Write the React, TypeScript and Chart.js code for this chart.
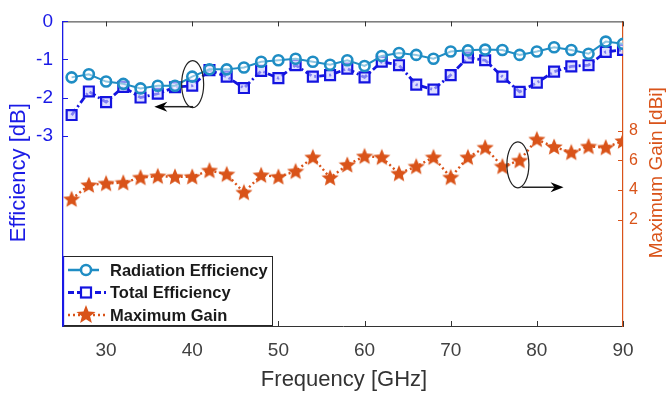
import React, { useEffect, useRef } from "react";
import { Chart, registerables } from "chart.js";

Chart.register(...registerables);

// ---------- data ----------
const freqs = [26, 28, 30, 32, 34, 36, 38, 40, 42, 44, 46, 48, 50, 52, 54, 56, 58, 60, 62, 64, 66, 68, 70, 72, 74, 76, 78, 80, 82, 84, 86, 88, 90];
const radiationEff = [-1.47, -1.39, -1.58, -1.64, -1.76, -1.69, -1.69, -1.45, -1.26, -1.26, -1.21, -1.06, -1.02, -0.98, -1.06, -1.14, -1.02, -1.17, -0.91, -0.83, -0.88, -0.98, -0.79, -0.76, -0.74, -0.75, -0.88, -0.79, -0.68, -0.75, -0.85, -0.53, -0.59];
const totalEff = [-2.46, -1.84, -2.12, -1.72, -2.0, -1.9, -1.73, -1.69, -1.28, -1.45, -1.75, -1.3, -1.49, -1.15, -1.45, -1.41, -1.24, -1.47, -1.06, -1.15, -1.66, -1.79, -1.41, -0.95, -1.02, -1.45, -1.85, -1.61, -1.32, -1.18, -1.15, -0.8, -0.75];
const maxGain = [3.38, 4.33, 4.44, 4.49, 4.84, 4.93, 4.89, 4.89, 5.32, 5.06, 3.83, 5.0, 4.89, 5.26, 6.21, 4.82, 5.7, 6.28, 6.21, 5.11, 5.59, 6.21, 4.85, 6.21, 6.87, 5.59, 5.99, 7.42, 6.91, 6.54, 6.94, 6.87, 7.31];

const xTicks = [30, 40, 50, 60, 70, 80, 90];
const leftTicks = [-3, -2, -1, 0];
const rightTicks = [2, 4, 6, 8];

const seriesNames = ["Radiation Efficiency", "Total Efficiency", "Maximum Gain"];
const xTitle = "Frequency [GHz]";
const leftTitle = "Efficiency [dB]";
const rightTitle = "Maximum Gain [dBi]";

// annotation anchors (data coordinates)
const ellipseCenters = [
  { x: 40.05, y: -1.65, axis: "y" },
  { x: 77.8, y: 5.7, axis: "y2" },
];
const arrowLines = [
  { from: 40.1, to: 35.6, y: -2.24, axis: "y" },
  { from: 78.3, to: 83.1, y: 4.18, axis: "y2" },
];

// ---------- style ----------
const C_RAD = "#1F8DC4";
const C_TOT = "#1414E0";
const C_GAIN = "#D95319";
const C_LEFT = "#1A1AE6";
const C_TEXT = "#333333";
const FONT = "'Liberation Sans', Arial, sans-serif";

function makeStar(size: number, color: string): HTMLCanvasElement {
  const c = document.createElement("canvas");
  c.width = size;
  c.height = size;
  const g = c.getContext("2d")!;
  drawStar(g, size / 2, size / 2 + 0.5, size / 2, (size / 2) * 0.45, color);
  return c;
}

function drawStar(g: CanvasRenderingContext2D, cx: number, cy: number, ro: number, ri: number, color: string) {
  g.beginPath();
  for (let i = 0; i < 10; i++) {
    const r = i % 2 === 0 ? ro : ri;
    const a = -Math.PI / 2 + (i * Math.PI) / 5;
    const px = cx + r * Math.cos(a);
    const py = cy + r * Math.sin(a);
    if (i === 0) g.moveTo(px, py);
    else g.lineTo(px, py);
  }
  g.closePath();
  g.fillStyle = color;
  g.fill();
}

const overlayPlugin = {
  id: "overlay",
  afterDraw(chart: any) {
    const ctx: CanvasRenderingContext2D = chart.ctx;
    const { left, right, top, bottom } = chart.chartArea;
    const sx = chart.scales.x;
    const sy = chart.scales.y;
    const sy2 = chart.scales.y2;
    ctx.save();

    // top border
    ctx.lineWidth = 1;
    ctx.strokeStyle = "#333333";
    ctx.beginPath();
    ctx.moveTo(left, top + 0.5);
    ctx.lineTo(right, top + 0.5);
    ctx.stroke();

    // inward ticks x
    const tl = 5;
    ctx.beginPath();
    xTicks.forEach((v) => {
      const px = Math.round(sx.getPixelForValue(v)) + 0.5;
      ctx.moveTo(px, bottom);
      ctx.lineTo(px, bottom - tl);
      ctx.moveTo(px, top);
      ctx.lineTo(px, top + tl);
    });
    ctx.stroke();

    ctx.strokeStyle = C_LEFT;
    ctx.beginPath();
    leftTicks.forEach((v) => {
      const py = Math.round(sy.getPixelForValue(v)) + 0.5;
      ctx.moveTo(left, py);
      ctx.lineTo(left + tl, py);
    });
    ctx.stroke();

    ctx.strokeStyle = C_GAIN;
    ctx.beginPath();
    rightTicks.forEach((v) => {
      const py = Math.round(sy2.getPixelForValue(v)) + 0.5;
      ctx.moveTo(right, py);
      ctx.lineTo(right - tl, py);
    });
    ctx.stroke();

    // axis titles
    ctx.textAlign = "center";
    ctx.textBaseline = "middle";
    ctx.fillStyle = C_TEXT;
    ctx.font = `22px ${FONT}`;
    ctx.fillText(xTitle, 344, 380);

    ctx.save();
    ctx.translate(19, (top + bottom) / 2 - 1);
    ctx.rotate(-Math.PI / 2);
    ctx.fillStyle = C_LEFT;
    ctx.font = `22px ${FONT}`;
    ctx.fillText(leftTitle, 0, 0);
    ctx.restore();

    ctx.save();
    ctx.translate(657, (top + bottom) / 2 - 1);
    ctx.rotate(-Math.PI / 2);
    ctx.fillStyle = C_GAIN;
    ctx.font = `19px ${FONT}`;
    ctx.fillText(rightTitle, 0, 0);
    ctx.restore();

    // legend
    const lx0 = left;
    const lx1 = 273;
    const ly0 = 256;
    const ly1 = bottom;
    ctx.fillStyle = "#ffffff";
    ctx.fillRect(lx0, ly0, lx1 - lx0, ly1 - ly0);
    ctx.strokeStyle = "#262626";
    ctx.lineWidth = 1;
    ctx.strokeRect(lx0 + 0.5, ly0 + 0.5, lx1 - lx0 - 1, ly1 - ly0 - 1);
    ctx.strokeStyle = C_LEFT;
    ctx.lineWidth = 1.3;
    ctx.beginPath();
    ctx.moveTo(left + 0.5, ly0);
    ctx.lineTo(left + 0.5, ly1);
    ctx.stroke();

    const rowY = [270, 292.5, 315];
    const mx = 86;
    // radiation
    ctx.strokeStyle = C_RAD;
    ctx.lineWidth = 2.5;
    ctx.setLineDash([]);
    ctx.beginPath();
    ctx.moveTo(68, rowY[0]);
    ctx.lineTo(99, rowY[0]);
    ctx.stroke();
    ctx.fillStyle = "#ffffff";
    ctx.beginPath();
    ctx.arc(mx, rowY[0], 5, 0, Math.PI * 2);
    ctx.fill();
    ctx.stroke();
    // total
    ctx.strokeStyle = C_TOT;
    ctx.lineWidth = 2.8;
    ctx.setLineDash([6, 3]);
    ctx.beginPath();
    ctx.moveTo(68, rowY[1]);
    ctx.lineTo(106, rowY[1]);
    ctx.stroke();
    ctx.setLineDash([]);
    ctx.lineWidth = 2.2;
    ctx.fillStyle = "#ffffff";
    ctx.fillRect(mx - 5, rowY[1] - 5, 10, 10);
    ctx.strokeRect(mx - 5, rowY[1] - 5, 10, 10);
    // gain
    ctx.strokeStyle = C_GAIN;
    ctx.lineWidth = 2.5;
    ctx.setLineDash([2, 3]);
    ctx.beginPath();
    ctx.moveTo(68, rowY[2]);
    ctx.lineTo(106, rowY[2]);
    ctx.stroke();
    ctx.setLineDash([]);
    drawStar(ctx, mx, rowY[2], 10, 4.3, C_GAIN);

    ctx.fillStyle = "#1a1a1a";
    ctx.font = `bold 16.5px ${FONT}`;
    ctx.textAlign = "left";
    ctx.textBaseline = "middle";
    seriesNames.forEach((n, i) => ctx.fillText(n, 110, rowY[i] + 1));

    // annotations: ellipses + arrows
    const radii = [
      [11, 23.5],
      [11, 23],
    ];
    ctx.strokeStyle = "#222222";
    ctx.lineWidth = 1.2;
    ellipseCenters.forEach((e, i) => {
      const ys = e.axis === "y" ? sy : sy2;
      const cx = sx.getPixelForValue(e.x);
      const cy = ys.getPixelForValue(e.y);
      ctx.beginPath();
      ctx.ellipse(cx, cy, radii[i][0], radii[i][1], 0, 0, Math.PI * 2);
      ctx.stroke();
    });
    ctx.fillStyle = "#000000";
    arrowLines.forEach((a) => {
      const ys = a.axis === "y" ? sy : sy2;
      const x0 = sx.getPixelForValue(a.from);
      const x1 = sx.getPixelForValue(a.to);
      const py = ys.getPixelForValue(a.y);
      const dir = x1 > x0 ? 1 : -1;
      ctx.strokeStyle = "#222222";
      ctx.lineWidth = 1.5;
      ctx.beginPath();
      ctx.moveTo(x0, py);
      ctx.lineTo(x1 - dir * 8, py);
      ctx.stroke();
      ctx.beginPath();
      ctx.moveTo(x1, py);
      ctx.lineTo(x1 - dir * 13, py - 5);
      ctx.lineTo(x1 - dir * 9, py);
      ctx.lineTo(x1 - dir * 13, py + 5);
      ctx.closePath();
      ctx.fill();
    });

    ctx.restore();
  },
};

export default function App() {
  const ref = useRef<HTMLCanvasElement | null>(null);

  useEffect(() => {
    document.body.style.margin = "0";
    const canvas = ref.current!;
    const star = makeStar(18, C_GAIN);

    const toPts = (vals: number[]) => freqs.map((f, i) => ({ x: f, y: vals[i] }));

    const chart = new Chart(canvas, {
      type: "line",
      data: {
        datasets: [
          {
            label: seriesNames[0],
            data: toPts(radiationEff),
            yAxisID: "y",
            borderColor: C_RAD,
            borderWidth: 2,
            pointStyle: "circle",
            pointRadius: 5,
            pointBorderWidth: 2.6,
            pointBorderColor: C_RAD,
            pointBackgroundColor: "rgba(255,255,255,0.5)",
            tension: 0,
          },
          {
            label: seriesNames[1],
            data: toPts(totalEff),
            yAxisID: "y",
            borderColor: C_TOT,
            borderWidth: 2.8,
            borderDash: [7, 3, 2, 3],
            pointStyle: "rect",
            pointRadius: 7,
            pointBorderWidth: 2.2,
            pointBorderColor: C_TOT,
            pointBackgroundColor: "rgba(200,200,255,0.6)",
            tension: 0,
          },
          {
            label: seriesNames[2],
            data: toPts(maxGain),
            yAxisID: "y2",
            borderColor: C_GAIN,
            borderWidth: 2.4,
            borderDash: [2, 3],
            pointStyle: star as any,
            pointRadius: 9,
            tension: 0,
          },
        ],
      },
      options: {
        animation: false,
        responsive: false,
        devicePixelRatio: 1,
        layout: { padding: { top: 14, left: 0, right: 0, bottom: 0 } },
        plugins: { legend: { display: false }, tooltip: { enabled: false } },
        scales: {
          x: {
            type: "linear",
            position: "bottom",
            min: 25,
            max: 90,
            afterFit: (s: any) => {
              s.height = 70;
            },
            afterBuildTicks: (s: any) => {
              s.ticks = xTicks.map((v) => ({ value: v }));
            },
            grid: { display: false, drawTicks: false },
            border: { display: true, color: "#333333", width: 1 },
            ticks: {
              padding: 13,
              color: "#404040",
              font: { family: FONT, size: 19 },
              maxRotation: 0,
            },
          },
          y: {
            type: "linear",
            position: "left",
            min: -8,
            max: 0,
            afterFit: (s: any) => {
              s.width = 63;
            },
            afterBuildTicks: (s: any) => {
              s.ticks = leftTicks.map((v) => ({ value: v }));
            },
            grid: { display: false, drawTicks: false },
            border: { display: true, color: C_LEFT, width: 1.3 },
            ticks: {
              padding: 10,
              color: C_LEFT,
              font: { family: FONT, size: 19 },
            },
          },
          y2: {
            type: "linear",
            position: "right",
            min: -5.2,
            max: 15.4,
            afterFit: (s: any) => {
              s.width = 44;
            },
            afterBuildTicks: (s: any) => {
              s.ticks = rightTicks.map((v) => ({ value: v }));
            },
            grid: { display: false, drawTicks: false },
            border: { display: true, color: C_GAIN, width: 1.2 },
            ticks: {
              padding: 6,
              color: C_GAIN,
              font: { family: FONT, size: 16 },
            },
          },
        },
      },
      plugins: [overlayPlugin],
    });

    return () => chart.destroy();
  }, []);

  return (
    <div style={{ width: 667, height: 396, background: "#ffffff" }}>
      <canvas ref={ref} width={667} height={396} style={{ display: "block", width: 667, height: 396 }} />
    </div>
  );
}
